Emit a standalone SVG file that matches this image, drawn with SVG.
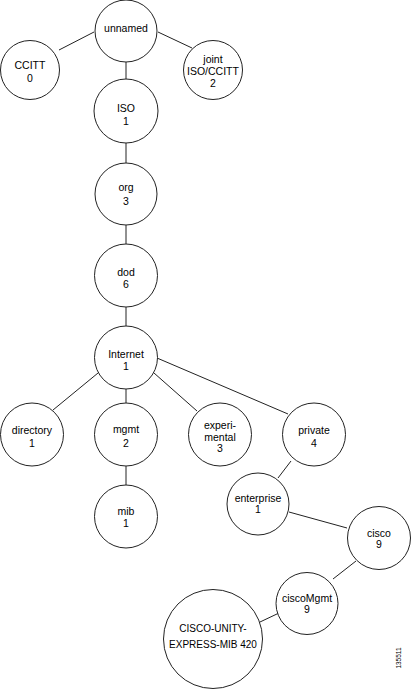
<svg xmlns="http://www.w3.org/2000/svg" width="411" height="689" viewBox="0 0 411 689">
<style>
  .n circle { fill: #ffffff; stroke: #222222; stroke-width: 1; }
  .n text { font-family: "Liberation Sans", Arial, sans-serif; font-size: 10.5px; fill: #000000; text-anchor: middle; }
  .n text.big { font-size: 10px; }
  #connectors line { stroke: #222222; stroke-width: 1; }
  .fig { font-family: "Liberation Sans", Arial, sans-serif; font-size: 6.5px; fill: #000000; text-anchor: middle; }
</style>
<rect width="411" height="689" fill="#ffffff"/>
<g id="connectors">
  <line x1="94" y1="32" x2="59" y2="50"/>
  <line x1="158" y1="32" x2="192" y2="48"/>
  <line x1="126" y1="62" x2="126" y2="80"/>
  <line x1="126" y1="143" x2="126" y2="163"/>
  <line x1="126" y1="225" x2="126" y2="244"/>
  <line x1="126" y1="307" x2="126" y2="326"/>
  <line x1="98" y1="373" x2="53" y2="410"/>
  <line x1="126" y1="389" x2="126" y2="403"/>
  <line x1="154" y1="373" x2="197" y2="411"/>
  <line x1="157" y1="358" x2="288" y2="414"/>
  <line x1="126" y1="466" x2="126" y2="485"/>
  <line x1="291" y1="461" x2="278" y2="478"/>
  <line x1="289" y1="512" x2="347" y2="528"/>
  <line x1="356" y1="561" x2="333" y2="579"/>
  <line x1="279" y1="613" x2="260" y2="622"/>
</g>
<g id="unnamed" class="n"><circle cx="126" cy="31" r="31"/><text x="126" y="32">unnamed</text></g>
<g id="ccitt" class="n"><circle cx="30" cy="70" r="29.5"/><text x="30" y="69">CCITT</text><text x="30" y="82">0</text></g>
<g id="joint" class="n"><circle cx="213" cy="70" r="29.5"/><text x="213" y="63">joint</text><text x="213" y="75">ISO/CCITT</text><text x="213" y="87">2</text></g>
<g id="iso" class="n"><circle cx="126" cy="111" r="32"/><text x="126" y="112">ISO</text><text x="126" y="125">1</text></g>
<g id="org" class="n"><circle cx="126" cy="194" r="31"/><text x="126" y="191">org</text><text x="126" y="205">3</text></g>
<g id="dod" class="n"><circle cx="126" cy="275.5" r="31.5"/><text x="126" y="276">dod</text><text x="126" y="288">6</text></g>
<g id="internet" class="n"><circle cx="126" cy="357.5" r="31.5"/><text x="126" y="358">Internet</text><text x="126" y="370">1</text></g>
<g id="directory" class="n"><circle cx="32" cy="434.5" r="31.5"/><text x="32" y="434">directory</text><text x="32" y="447">1</text></g>
<g id="mgmt" class="n"><circle cx="126" cy="434.5" r="31.5"/><text x="126" y="433">mgmt</text><text x="126" y="447">2</text></g>
<g id="experimental" class="n"><circle cx="220" cy="434.5" r="31.5"/><text x="220" y="429">experi-</text><text x="220" y="441">mental</text><text x="220" y="452">3</text></g>
<g id="private" class="n"><circle cx="314" cy="434.5" r="31.5"/><text x="314" y="434">private</text><text x="314" y="447">4</text></g>
<g id="mib" class="n"><circle cx="126" cy="516.5" r="31.5"/><text x="126" y="515">mib</text><text x="126" y="527">1</text></g>
<g id="enterprise" class="n"><circle cx="258" cy="504" r="31"/><text x="258" y="502">enterprise</text><text x="258" y="513">1</text></g>
<g id="cisco" class="n"><circle cx="379" cy="538" r="31.5"/><text x="379" y="537">cisco</text><text x="379" y="548">9</text></g>
<g id="ciscoMgmt" class="n"><circle cx="307" cy="603.5" r="31"/><text x="307" y="602">ciscoMgmt</text><text x="307" y="613">9</text></g>
<g id="cisco-unity" class="n"><circle cx="213" cy="639" r="49.5"/><text class="big" x="213" y="632">CISCO-UNITY-</text><text class="big" x="213" y="648">EXPRESS-MIB 420</text></g>
<text class="fig" x="0" y="0" transform="translate(401 658) rotate(-90)">135511</text>
</svg>
